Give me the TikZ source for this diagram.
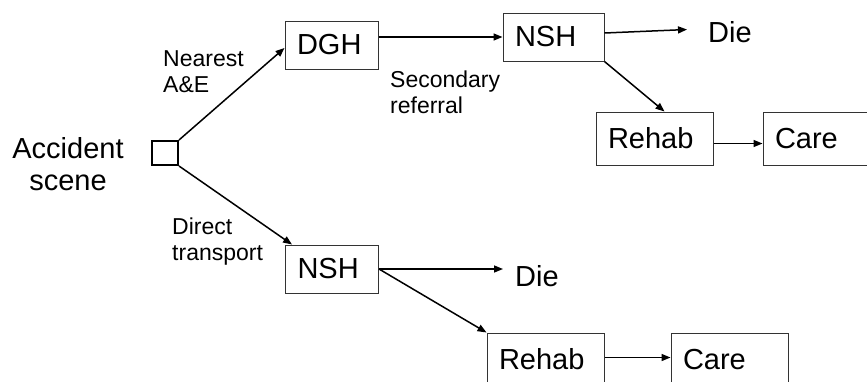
\documentclass[tikz,border=0pt]{standalone}
\usepackage{fontspec}
\setmainfont{Liberation Sans}
\usepackage{tikz}
\usetikzlibrary{arrows.meta, positioning}

\begin{document}
\begin{tikzpicture}[x=1pt, y=-1pt,
    box/.style={rectangle, draw=black!80, line width=1pt, inner xsep=12pt, inner ysep=0pt, align=left, font=\fontsize{29}{32}\selectfont},
    lbl/.style={inner sep=0pt, align=left, font=\fontsize{23}{26}\selectfont},
    arr/.style={-{Triangle[length=9pt, width=7pt]}, line width=1.5pt}]
    \useasboundingbox (0,0) rectangle (867,381);
    \clip (0,0) rectangle (867,381);

    % Start of the tree
    \node[rectangle, draw, line width=2pt, minimum width=26pt, minimum height=24pt, inner sep=0pt] (scene) at (165,153) {};
    \node[inner sep=0pt, align=center, anchor=base, font=\fontsize{29}{32}\selectfont] (accident) at (68,190) {Accident\\scene};

    % Upper branch
    \node[box, text width=69pt, minimum height=48pt] (dgh) at (331.5,45) {DGH};
    \node[box, text width=77pt, minimum height=48pt] (nsh1) at (553.5,37) {NSH};
    \node[box, text width=93pt, minimum height=53pt] (rehab1) at (654.5,138.5) {Rehab};
    \node[box, text width=93pt, minimum height=53pt] (care1) at (821.5,138.5) {Care};
    \node[inner sep=0pt, anchor=base west, font=\fontsize{29}{32}\selectfont] (die1) at (708,42) {Die};

    % Lower branch
    \node[box, text width=69pt, minimum height=48pt] (nsh2) at (332,269) {NSH};
    \node[box, text width=93pt, minimum height=53pt] (rehab2) at (545.5,359.5) {Rehab};
    \node[box, text width=93pt, minimum height=53pt] (care2) at (729.5,359.5) {Care};
    \node[inner sep=0pt, anchor=base west, font=\fontsize{29}{32}\selectfont] (die2) at (515,286) {Die};

    % Labels on the routes
    \node[lbl, anchor=base west] (nearest) at (163,92) {Nearest\\A\&E};
    \node[lbl, anchor=base west] (secondary) at (390,113) {Secondary\\referral};
    \node[lbl, anchor=base west] (direct) at (172,260) {Direct\\transport};

    % Draw connections
    \draw[arr] (scene.north east) -- ([yshift=-3pt]dgh.west);
    \draw[arr] (scene.south east) -- ([xshift=7pt]nsh2.north west);
    \draw[arr] (dgh.east |- nsh1.west) -- (nsh1.west);
    \draw[arr, shorten >=21pt] ([yshift=4pt]nsh1.east) -- ([yshift=3pt]die1.west);
    \draw[arr] (nsh1.south east) -- ([xshift=10pt]rehab1.north);
    \draw[arr] ([yshift=-5pt]rehab1.east) -- ([yshift=-5pt]care1.west);
    \draw[arr, shorten >=12pt] (nsh2.east) -- (nsh2.east -| die2.west);
    \draw[arr] (nsh2.east) -- (rehab2.north west);
    \draw[arr] ([yshift=2pt]rehab2.east) -- ([yshift=2pt]care2.west);
\end{tikzpicture}
\end{document}
